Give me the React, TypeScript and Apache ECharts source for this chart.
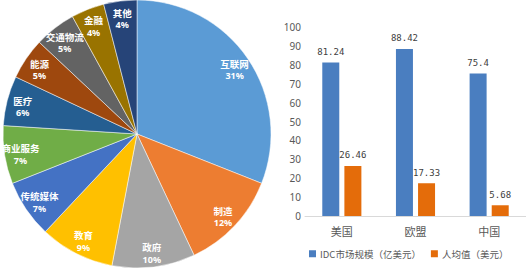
import React, { useEffect, useRef } from "react";
import * as echarts from "echarts";

const pieNames = ["互联网", "制造", "政府", "教育", "传统媒体", "商业服务", "医疗", "能源", "交通物流", "金融", "其他"];
const pieValues = [31, 12, 10, 9, 7, 7, 6, 5, 5, 4, 4];
const pieColors = ["#5B9BD5", "#ED7D31", "#A5A5A5", "#FFC000", "#4472C4", "#70AD47", "#255E91", "#9E480E", "#636363", "#997300", "#264478"];

const regions = ["美国", "欧盟", "中国"];
const marketSize = [81.24, 88.42, 75.4];
const perCapita = [26.46, 17.33, 5.68];
const seriesNames = ["IDC市场规模（亿美元）", "人均值（美元）"];

export default function App() {
  const ref = useRef<HTMLDivElement>(null);
  useEffect(() => {
    const chart = echarts.init(ref.current!, null, { renderer: "svg" });
    const pieData = pieNames.map((n, i) => ({ name: n, value: pieValues[i], itemStyle: { color: pieColors[i] } }));
    chart.setOption({
      animation: false,
      legend: {
        top: 249,
        left: 309,
        width: 230,
        padding: 0,
        itemWidth: 7,
        itemHeight: 7,
        itemGap: 10,
        icon: "rect",
        textStyle: { fontFamily: "Noto Sans CJK SC", fontSize: 9.5, color: "#595959", padding: [0, 0, 0, -1] },
        data: seriesNames,
      },
      grid: { left: 305, right: -5, top: 27, bottom: 55, containLabel: false },
      xAxis: {
        type: "category",
        data: regions,
        axisLine: { lineStyle: { color: "#D9D9D9" } },
        axisTick: { show: false },
        axisLabel: { fontFamily: "Noto Sans CJK SC", fontSize: 11, color: "#595959", margin: 9 },
      },
      yAxis: {
        type: "value",
        min: 0,
        max: 100,
        interval: 10,
        splitLine: { show: false },
        axisLine: { show: false },
        axisLabel: { fontFamily: "Noto Sans", fontSize: 10, color: "#595959", margin: 4 },
      },
      series: [
        {
          type: "pie",
          center: [137, 134],
          radius: [0, 134],
          startAngle: 90,
          clockwise: true,
          silent: true,
          itemStyle: { borderColor: "#ffffff", borderWidth: 0.5 },
          label: { show: false },
          data: pieData,
        },
        {
          type: "pie",
          center: [137, 136],
          radius: [0, 230],
          startAngle: 90,
          clockwise: true,
          silent: true,
          avoidLabelOverlap: false,
          minShowLabelAngle: 0,
          itemStyle: { color: "transparent" },
          label: {
            show: true,
            position: "inside",
            formatter: "{n|{b}}\n{p|{c}%}",
            rich: {
              n: { fontFamily: "Noto Sans CJK SC", fontSize: 9.5, fontWeight: "bold", color: "#fff", lineHeight: 12 },
              p: { fontFamily: "Noto Sans", fontSize: 9, fontWeight: "bold", color: "#fff", lineHeight: 12 },
            },
          },
          labelLine: { show: false },
          data: pieNames.map((n, i) => ({ name: n, value: pieValues[i] })),
        },
        {
          name: seriesNames[0],
          type: "bar",
          data: marketSize,
          barWidth: 17,
          barGap: "30%",
          itemStyle: { color: "#4A7EC0" },
          label: { show: true, position: "top", distance: 6, fontFamily: "DejaVu Sans Mono", fontSize: 9, color: "#404040" },
        },
        {
          name: seriesNames[1],
          type: "bar",
          data: perCapita,
          barWidth: 17,
          itemStyle: { color: "#E46C0A" },
          label: { show: true, position: "top", distance: 6, fontFamily: "DejaVu Sans Mono", fontSize: 9, color: "#404040" },
        },
      ],
    });
    return () => chart.dispose();
  }, []);
  return <div ref={ref} style={{ width: 526, height: 271, position: "absolute", left: 0, top: 0 }} />;
}
